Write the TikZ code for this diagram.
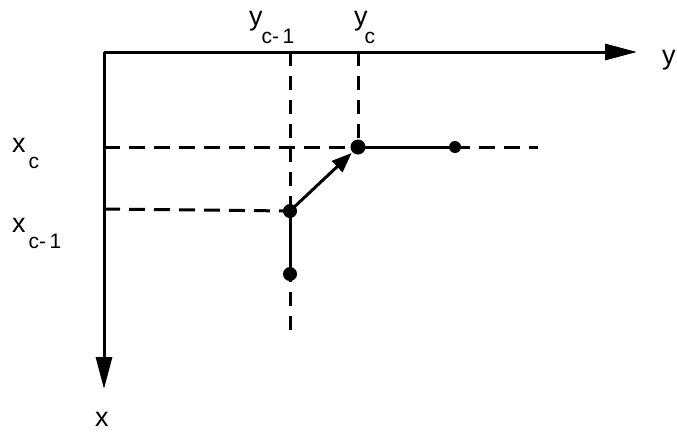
\documentclass[tikz,border=0pt]{standalone}
\usepackage{fontspec}
\setmainfont{Liberation Sans}
\usetikzlibrary{arrows.meta}
\newcommand{\mainsz}{\fontsize{27}{27}\selectfont}
\newcommand{\subsz}{\fontsize{21}{21}\selectfont}
\begin{document}
\begin{tikzpicture}[x=1pt,y=-1pt,
  axis/.style={line width=3pt,-{Triangle[length=32pt,width=16pt]}},
  guideh/.style={line width=3pt,dash pattern=on 16pt off 9pt},
  guidev/.style={line width=3pt,dash pattern=on 14pt off 10pt},
  seg/.style={line width=3pt},
  dot/.style={circle,fill=black,inner sep=0pt,minimum size=#1},
  lbl/.style={anchor=base west,inner sep=0pt,font=\mainsz}]
\useasboundingbox (0,0) rectangle (677,432);
% axes
\coordinate (O) at (104,52);
\coordinate (Yend) at (637,52);
\coordinate (Xend) at (104,389);
\draw[axis] (O) -- (Yend);
\draw[axis] (O) -- (Xend);
\node[lbl] (ylab) at (662,64) {y};
\node[lbl] (xlab) at (95,426) {x};
% guide coordinates
\coordinate (ycm1top) at (290,52);
\coordinate (ycm1bot) at (290,338);
\coordinate (yctop) at (358,52);
\coordinate (xcleft) at (104,147);
\coordinate (xcright) at (538,147);
\coordinate (xcm1left) at (104,209);
% points
\node[dot=15pt] (Pc) at (358,147) {};
\node[dot=12pt] (Pr) at (455,147) {};
\node[dot=14pt] (Pcm1) at (290,211) {};
\node[dot=14pt] (Pb) at (290,274) {};
% dashed guides
\draw[guidev] (ycm1top) -- (ycm1bot);
\draw[guidev] (yctop) -- (Pc.center);
\draw[guideh] (xcleft) -- (xcright);
\draw[guideh] (xcm1left) -- (Pcm1.center);
% solid path
\draw[seg] (Pb.center) -- (Pcm1.center);
\draw[seg,-{Triangle[length=20pt,width=15pt]},shorten >=1pt] (Pcm1.center) -- (Pc);
\draw[seg] (Pc.center) -- (Pr.center);
% labels
\node[lbl] (lycm1) at (249,25) {y\kern-1pt\raisebox{-18pt}{\subsz c-\,1}};
\node[lbl] (lyc) at (354,25) {y\kern-3pt\raisebox{-18pt}{\subsz c}};
\node[lbl] (lxc) at (12,152) {x\kern3pt\raisebox{-16pt}{\subsz c}};
\node[lbl] (lxcm1) at (12,232) {x\kern3pt\raisebox{-16pt}{\subsz c-\,1}};
\end{tikzpicture}
\end{document}
